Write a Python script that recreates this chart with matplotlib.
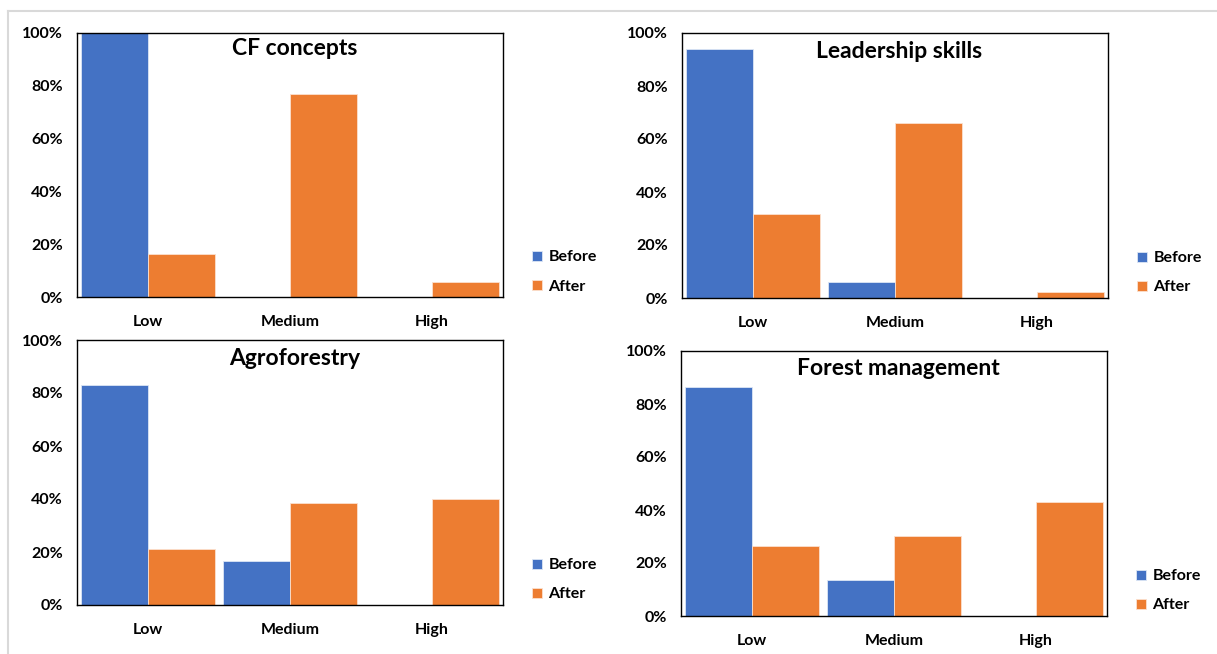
import numpy as np
import matplotlib.pyplot as plt
from matplotlib.lines import Line2D
from matplotlib.ticker import PercentFormatter

plt.rcParams['font.family'] = ['Lato', 'DejaVu Sans']

levels = ['Low', 'Medium', 'High']
titles = ['CF concepts', 'Leadership skills', 'Agroforestry', 'Forest management']

# percent of respondents per knowledge level
before_cf = [100, 0, 0]
after_cf = [16.3, 77, 5.8]
before_lead = [94, 5.9, 0]
after_lead = [31.6, 66, 2.1]
before_agro = [83.1, 16.5, 0]
after_agro = [21.2, 38.5, 40]
before_forest = [86.3, 13.7, 0]
after_forest = [26.4, 30.2, 43]

blue = '#4472C4'
orange = '#ED7D31'

fig = plt.figure(figsize=(12.17, 6.54), dpi=100)

# light frame around the sheet
fig.add_artist(Line2D([8/1217, 1], [1 - 11/654, 1 - 11/654], color='#d9d9d9', lw=1.5))
fig.add_artist(Line2D([8/1217, 8/1217], [0, 1 - 11/654], color='#d9d9d9', lw=1.5))

rects = [
    [77/1217, (654-297)/654, 426/1217, 264/654],
    [682/1217, (654-298)/654, 426/1217, 265/654],
    [77/1217, (654-605)/654, 426/1217, 265/654],
    [681/1217, (654-616)/654, 426/1217, 265/654],
]
data = [
    (before_cf, after_cf),
    (before_lead, after_lead),
    (before_agro, after_agro),
    (before_forest, after_forest),
]
title_y = [0.94, 0.93, 0.93, 0.935]

x = np.arange(len(levels))
w = 0.475

for rect, (bef, aft), title, ty in zip(rects, data, titles, title_y):
    ax = fig.add_axes(rect)
    ax.bar(x - w/2, bef, width=w, color=blue, edgecolor='#dce6f5', linewidth=0.6, label='Before')
    ax.bar(x + w/2, aft, width=w, color=orange, edgecolor='#fbe0cf', linewidth=0.6, label='After')
    ax.set_xlim(-0.5, 2.5)
    ax.set_ylim(0, 100)
    ax.set_yticks(np.arange(0, 101, 20))
    ax.yaxis.set_major_formatter(PercentFormatter(decimals=0))
    ax.set_xticks(x)
    ax.set_xticklabels(levels)
    ax.tick_params(axis='both', length=0, labelsize=11.5)
    ax.tick_params(axis='x', pad=13)
    ax.tick_params(axis='y', pad=10)
    for lab in ax.get_xticklabels() + ax.get_yticklabels():
        lab.set_fontweight('bold')
    for sp in ax.spines.values():
        sp.set_color('black')
        sp.set_linewidth(1.0)
    ax.text(0.51, ty, title, transform=ax.transAxes, ha='center', va='center',
            fontsize=16.5, fontweight='bold')
    ax.legend(loc='center left', bbox_to_anchor=(1.035, 0.095), frameon=False,
              handlelength=0.6, handleheight=0.6, handletextpad=0.4,
              labelspacing=0.95, prop={'size': 11.5, 'weight': 'bold'})

fig.savefig('out.png', dpi=100)
